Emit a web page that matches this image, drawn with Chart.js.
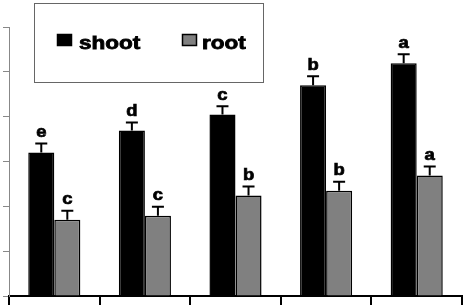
<!DOCTYPE html>
<html>
<head>
<meta charset="utf-8">
<script src="https://cdn.jsdelivr.net/npm/chart.js@4"></script>
<style>
  body { margin: 0; background: #fff; }
  canvas { display: block; }
</style>
</head>
<body>
<canvas id="barChart" width="466" height="305"></canvas>
<script>
// chart values
const categories = ['T1', 'T2', 'T3', 'T4', 'T5'];
const shootValues = [3.20, 3.69, 4.05, 4.70, 5.19];
const rootValues = [1.70, 1.79, 2.24, 2.35, 2.69];
const shootErrors = [0.20, 0.18, 0.18, 0.20, 0.20];
const rootErrors = [0.20, 0.20, 0.20, 0.20, 0.20];
const shootLetters = ['e', 'd', 'c', 'b', 'a'];
const rootLetters = ['c', 'c', 'b', 'b', 'a'];

const errors = [shootErrors, rootErrors];
const letters = [shootLetters, rootLetters];

// error bars + significance letters
const errorBarPlugin = {
    id: 'errorBars',
    afterDatasetsDraw(chart) {
        const ctx = chart.ctx;
        const yScale = chart.scales.y;
        chart.data.datasets.forEach((ds, di) => {
            const meta = chart.getDatasetMeta(di);
            meta.data.forEach((bar, i) => {
                const top = yScale.getPixelForValue(ds.data[i] + errors[di][i]);
                ctx.save();
                ctx.strokeStyle = '#000';
                ctx.lineWidth = 2;
                ctx.beginPath();
                ctx.moveTo(bar.x, bar.y);
                ctx.lineTo(bar.x, top);
                ctx.moveTo(bar.x - 6, top);
                ctx.lineTo(bar.x + 6, top);
                ctx.stroke();
                ctx.translate(bar.x, top - 3);
                ctx.scale(1.15, 1);
                ctx.fillStyle = '#000';
                ctx.font = 'bold 16px "Liberation Sans", Arial, sans-serif';
                ctx.textAlign = 'center';
                ctx.textBaseline = 'bottom';
                ctx.lineWidth = 0.7;
                ctx.fillText(letters[di][i], 0, 0);
                ctx.strokeText(letters[di][i], 0, 0);
                ctx.restore();
            });
        });
    }
};

// framed legend inside the plot
const boxLegendPlugin = {
    id: 'boxLegend',
    afterDraw(chart) {
        const ctx = chart.ctx;
        ctx.save();
        ctx.strokeStyle = '#666';
        ctx.lineWidth = 1;
        ctx.strokeRect(34.5, 3.5, 229, 79);
        const items = [{ x: 57, tx: 79 }, { x: 182, tx: 202 }];
        chart.data.datasets.forEach((ds, i) => {
            const it = items[i];
            ctx.fillStyle = ds.backgroundColor;
            ctx.fillRect(it.x, 34, 15, 12);
            ctx.strokeStyle = '#000';
            ctx.lineWidth = 1.5;
            ctx.strokeRect(it.x + 0.5, 34.5, 14, 11);
            ctx.save();
            ctx.translate(it.tx, 49);
            ctx.scale(1.25, 1);
            ctx.fillStyle = '#000';
            ctx.font = 'bold 18px "Liberation Sans", Arial, sans-serif';
            ctx.textBaseline = 'alphabetic';
            ctx.lineWidth = 0.8;
            ctx.fillText(ds.label, 0, 0);
            ctx.strokeText(ds.label, 0, 0);
            ctx.restore();
        });
        ctx.restore();
    }
};

const ctx = document.getElementById('barChart').getContext('2d');
const barChart = new Chart(ctx, {
    type: 'bar',
    data: {
        labels: categories,
        datasets: [{
            label: 'shoot',
            data: shootValues,
            backgroundColor: '#000000',
            borderColor: '#000000',
            borderWidth: 1.5
        }, {
            label: 'root',
            data: rootValues,
            backgroundColor: '#808080',
            borderColor: '#000000',
            borderWidth: 1.5
        }]
    },
    options: {
        responsive: false,
        animation: false,
        layout: {
            padding: { left: 3, right: 4, top: 27, bottom: 0 }
        },
        datasets: {
            bar: {
                barPercentage: 1,
                categoryPercentage: 0.575
            }
        },
        plugins: {
            legend: { display: false },
            tooltip: { enabled: false }
        },
        scales: {
            x: {
                ticks: { display: false },
                grid: {
                    offset: true,
                    drawOnChartArea: false,
                    drawTicks: true,
                    tickLength: 9,
                    color: '#000',
                    lineWidth: 2
                },
                border: { color: '#000', width: 2 }
            },
            y: {
                min: 0,
                max: 6,
                ticks: { display: false, stepSize: 1 },
                grid: {
                    drawOnChartArea: false,
                    drawTicks: true,
                    tickLength: 6,
                    color: '#888',
                    lineWidth: 1
                },
                border: { color: '#888', width: 1 }
            }
        }
    },
    plugins: [errorBarPlugin, boxLegendPlugin]
});
</script>
</body>
</html>
